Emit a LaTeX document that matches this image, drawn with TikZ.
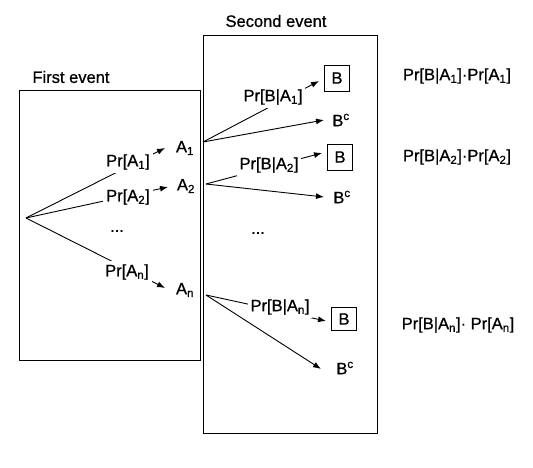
\documentclass[tikz,border=0pt]{standalone}
\usepackage{fontspec}
\setmainfont{Liberation Sans}[FakeBold=0.8]
\usetikzlibrary{arrows.meta}
\begin{document}
\begin{tikzpicture}[x=1pt,y=-1pt,
  every node/.style={font=\fontsize{16.5}{19}\selectfont, inner sep=2pt},
  frame/.style={draw, line width=0.9pt},
  lbl/.style={fill=white, inner xsep=3pt, inner ysep=3pt},
  conn/.style={line width=0.9pt},
  arr/.style={conn, -{Latex[length=8pt,width=6pt]}},
  bbox/.style={draw, line width=0.9pt, minimum width=25pt, minimum height=26pt, inner sep=0pt}
]
\useasboundingbox (0,0) rectangle (533,468);
% frames
\node[frame, minimum width=181pt, minimum height=270pt, inner sep=0pt] (first) at (109.5,225) {};
\node[frame, minimum width=174pt, minimum height=398pt, inner sep=0pt] (second) at (290,234) {};
\node (firstlbl) at (71,77) {First event};
\node (secondlbl) at (276,21) {Second event};
% first event targets
\node (A1) at (185,148) {A\textsubscript{1}};
\node (A2) at (186,186) {A\textsubscript{2}};
\node (An) at (185,290) {A\textsubscript{n}};
\coordinate (o1) at (26,218);
\coordinate (t1) at (165,148);
\coordinate (t2) at (168,187);
\coordinate (tn) at (165,288);
\draw[arr] (o1) -- (t1);
\draw[arr] (o1) -- (t2);
\draw[arr] (o1) -- (tn);
\node[lbl] (p1) at (128,162) {Pr[A\textsubscript{1}]};
\node[lbl] (p2) at (128,197) {Pr[A\textsubscript{2}]};
\node (dots1) at (117,231) {...};
\node[lbl] (pn) at (127,272) {Pr[A\textsubscript{n}]};
% second event
\node[bbox] (B1) at (337,78) {B};
\node[bbox] (B2) at (340,157) {B};
\node[bbox, minimum height=23pt] (B3) at (344,319) {B};
\node (Bc1) at (341,120) {B\textsuperscript{c}};
\node (Bc2) at (342,197) {B\textsuperscript{c}};
\node (Bc3) at (345,368) {B\textsuperscript{c}};
\coordinate (o2) at (203,142);
\coordinate (o3) at (206,184);
\coordinate (o4) at (206,295);
\coordinate (s1) at (319,81);
\coordinate (s2) at (322,153);
\coordinate (s3) at (326,321);
\coordinate (c1) at (324,120);
\coordinate (c2) at (324,197);
\coordinate (c3) at (321,369);
\draw[arr] (o2) -- (s1);
\draw[arr] (o2) -- (c1);
\draw[arr] (o3) -- (s2);
\draw[arr] (o3) -- (c2);
\draw[arr] (o4) -- (s3);
\draw[arr] (o4) -- (c3);
\node[lbl] (q1) at (273,97) {Pr[B|A\textsubscript{1}]};
\node[lbl] (q2) at (269,165) {Pr[B|A\textsubscript{2}]};
\node (dots2) at (258,233) {...};
\node[lbl] (qn) at (280,307) {Pr[B|A\textsubscript{n}]};
% results
\node (r1) at (457,76) {Pr[B|A\textsubscript{1}]·Pr[A\textsubscript{1}]};
\node (r2) at (457,157) {Pr[B|A\textsubscript{2}]·Pr[A\textsubscript{2}]};
\node (rn) at (458,325) {Pr[B|A\textsubscript{n}]· Pr[A\textsubscript{n}]};
\end{tikzpicture}
\end{document}
